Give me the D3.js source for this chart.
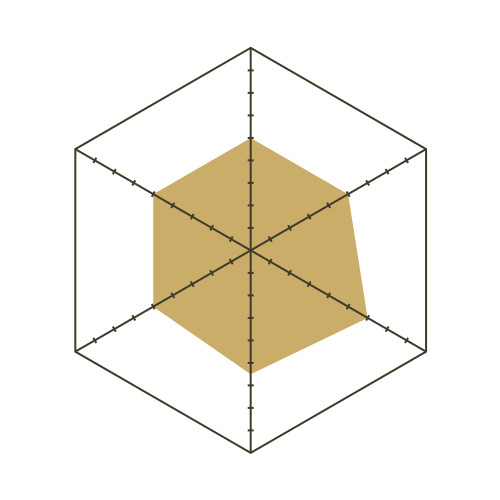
<!DOCTYPE html>
<html><head><meta charset="utf-8">
<script src="https://cdn.jsdelivr.net/npm/d3@7"></script>
<style>html,body{margin:0;padding:0;background:#fff;}</style>
</head><body>
<svg id="chart" width="500" height="500"></svg>
<script>
const axes = ["A", "B", "C", "D", "E", "F"];
const values = [5, 5, 6, 5.5, 5, 5];
const maxValue = 9;
const tickValues = [1, 2, 3, 4, 5, 6, 7, 8];

const cx = 250.7, cy = 250.4, R = 202.5;
const svg = d3.select("#chart");
const g = svg.append("g").attr("transform", `translate(${cx},${cy})`);
const r = d3.scaleLinear().domain([0, maxValue]).range([0, R]);
const angle = d3.scalePoint().domain(axes).range([0, 2 * Math.PI * (axes.length - 1) / axes.length]);
const pt = (a, v) => [r(v) * Math.sin(angle(a)), -r(v) * Math.cos(angle(a))];

const stroke = "#3f3b2a";

const line = d3.line().curve(d3.curveLinearClosed);
g.append("path")
  .attr("d", line(axes.map((a, i) => pt(a, values[i]))))
  .attr("fill", "#cbad6a").attr("stroke", "none");

g.append("path")
  .attr("d", line(axes.map(a => pt(a, maxValue))))
  .attr("fill", "none").attr("stroke", stroke).attr("stroke-width", 2);

axes.forEach(a => {
  const [x2, y2] = pt(a, maxValue);
  g.append("line").attr("x1", 0).attr("y1", 0).attr("x2", x2).attr("y2", y2)
    .attr("stroke", stroke).attr("stroke-width", 2);
  const ang = angle(a);
  const px = Math.cos(ang) * 3, py = Math.sin(ang) * 3;
  tickValues.forEach(t => {
    const [x, y] = pt(a, t);
    g.append("line").attr("x1", x - px).attr("y1", y - py).attr("x2", x + px).attr("y2", y + py)
      .attr("stroke", stroke).attr("stroke-width", 2);
  });
});
</script>
</body></html>
